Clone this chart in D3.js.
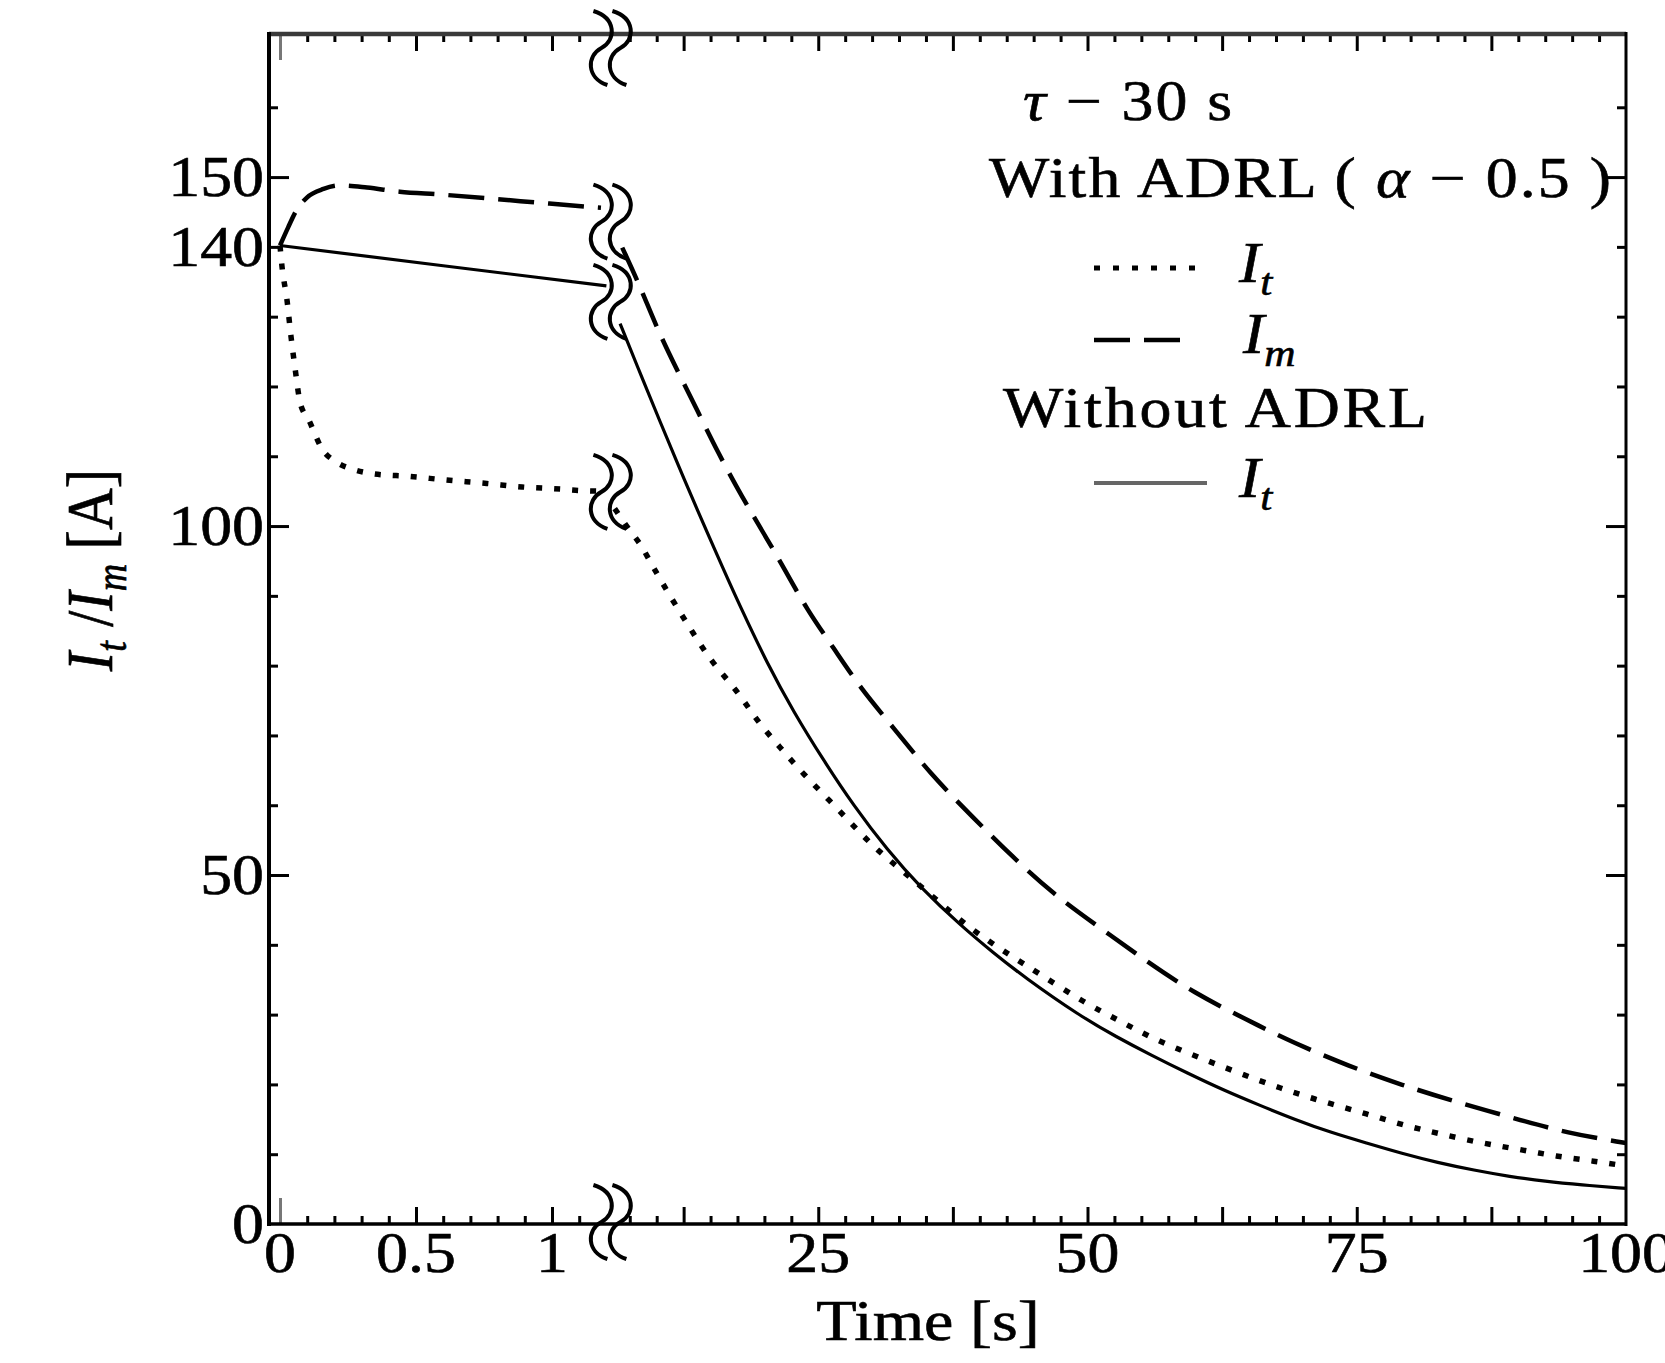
<!DOCTYPE html>
<html><head><meta charset="utf-8">
<script src="https://cdn.jsdelivr.net/npm/d3@7"></script>
<style>
body{margin:0;background:#fff;}
svg{display:block;}
text{font-family:"Liberation Serif","Times New Roman",serif;fill:#000;stroke:#000;stroke-width:0.6px;}
</style>
</head><body>
<svg id="c" width="1665" height="1363"></svg>
<script>
// ---------------- DATA ----------------
// Left (zoomed) time segment, 0 .. 1.2 s
const dotLeftT  = [0, 0.007, 0.026, 0.04, 0.055, 0.074, 0.107, 0.154, 0.21, 0.27, 0.34, 0.48, 0.61, 0.76, 0.89, 1.03, 1.10, 1.17];
const dotLeftV  = [140.2, 137.3, 132.3, 127.3, 122.7, 117.7, 115.1, 111.1, 109.1, 108.1, 107.5, 107.1, 106.6, 106.1, 105.6, 105.3, 105.1, 105.0];
const dashLeftT = [0, 0.03, 0.06, 0.10, 0.16, 0.22, 0.32, 0.44, 0.59, 0.78, 0.99, 1.18];
const dashLeftV = [140.2, 142.8, 145.2, 147.1, 148.3, 148.8, 148.5, 147.9, 147.5, 146.9, 146.2, 145.6];
const solLeftT  = [0, 0.6, 1.2];
const solLeftV  = [140.2, 137.3, 134.4];

// Right (long) time segment, after the axis break, up to 100 s
const dotRightT  = [6.1, 7.5, 8.5, 9.7, 11.5, 13.4, 15.2, 17.5, 19.3, 21.5, 23.6, 26.1, 28.3, 30.5, 33.3, 36.3, 39.4, 42.6, 45.6, 49.7, 53.0, 55.9, 59.3, 62.6, 66.0, 69.2, 72.6, 75.9, 79.2, 82.5, 86.5, 90.1, 93.5, 97.1, 100];
const dotRightV  = [102.5, 99.3, 97.5, 94.0, 89.3, 84.6, 80.3, 76.4, 72.1, 68.2, 64.5, 60.6, 57.0, 53.5, 50.0, 46.0, 42.0, 38.7, 35.8, 31.7, 29.1, 26.7, 24.5, 22.5, 20.5, 18.8, 17.2, 15.8, 14.2, 13.0, 11.6, 10.7, 9.7, 9.0, 8.3];
const dashRightT = [6.8, 8.5, 10.0, 11.9, 13.8, 15.6, 17.9, 20.5, 21.8, 24.0, 26.4, 28.9, 32.0, 35.4, 39.4, 43.1, 46.8, 51.2, 55.7, 59.9, 64.6, 69.2, 74.3, 79.2, 84.2, 89.5, 94.6, 100];
const dashRightV = [139.9, 134.2, 128.4, 122.3, 116.5, 110.8, 104.2, 97.5, 94.0, 87.9, 82.6, 76.8, 71.1, 64.5, 58.2, 52.5, 47.3, 42.4, 37.4, 33.1, 29.4, 25.9, 22.6, 19.9, 17.5, 15.2, 13.0, 11.6];
const solRightT  = [6.6, 8.7, 10.3, 11.9, 13.3, 15.0, 16.0, 17.8, 20.3, 22.7, 25.5, 28.3, 31.4, 34.5, 38.2, 41.3, 44.1, 49.3, 52.7, 55.9, 59.3, 62.6, 66.0, 69.2, 72.6, 75.9, 79.2, 82.5, 85.9, 89.2, 92.5, 95.8, 100];
const solRightV  = [129.0, 121.0, 115.0, 109.1, 104.0, 98.0, 94.5, 88.3, 80.2, 73.4, 66.4, 59.9, 53.6, 48.2, 42.8, 38.8, 35.4, 29.8, 26.8, 24.2, 21.6, 19.2, 17.0, 15.0, 13.1, 11.6, 10.1, 8.8, 7.7, 6.8, 6.1, 5.6, 5.1];

// Axis ticks / labels
const xLeftTicks     = [0, 0.5, 1];
const xLeftLabels    = ["0", "0.5", "1"];
const xRightTicks    = [25, 50, 75, 100];
const xRightLabels   = ["25", "50", "75", "100"];
const yTickValues    = [0, 50, 100, 140, 150];
const yTickLabels    = ["0", "50", "100", "140", "150"];
const breakAt        = 1.2;   // end of left segment (s)
const yMax           = 170.5;

// ---------------- LAYOUT ----------------
const L = 269, R = 1626, T = 34, B = 1224;
const SX = 1.14, FS = 56;
const svg = d3.select("#c");

const y  = d3.scaleLinear().domain([0, yMax]).range([B, T]);
const xL = d3.scaleLinear().domain([0, 1]).range([280, 552]);
const xR = d3.scaleLinear().domain([0, 100]).range([549, R]);

// ---------------- TICKS ----------------
function ticks(axisFn, scale, values, size, transform, color) {
  const ax = axisFn(scale).tickValues(values).tickSize(size).tickFormat("");
  const g = svg.append("g").attr("transform", transform).call(ax);
  g.select(".domain").remove();
  g.selectAll("line").attr("stroke", color || "#000").attr("stroke-width", 3);
  return g;
}
const leftMinor  = d3.range(1, 12).map(i => i / 10).filter(v => Math.abs(v * 2 - Math.round(v * 2)) > 1e-6);
const leftMajor  = [0.5, 1];
const rightAll   = d3.range(3, 40).map(i => i * 2.5);
const rightMinor = rightAll.filter(v => Math.abs(v / 12.5 - Math.round(v / 12.5)) > 1e-6);
const rightMajor = rightAll.filter(v => Math.abs(v / 12.5 - Math.round(v / 12.5)) < 1e-6);
const yMinor = d3.range(1, 17).map(i => i * 10).filter(v => v % 50 !== 0);
const yMajor = [50, 100, 150];

// bottom
ticks(d3.axisBottom, xL, leftMinor, -8, `translate(0,${B})`);
ticks(d3.axisBottom, xL, leftMajor, -17, `translate(0,${B})`);
ticks(d3.axisBottom, xL, [0], -26, `translate(0,${B})`, "#777");
ticks(d3.axisBottom, xR, rightMinor, -8, `translate(0,${B})`);
ticks(d3.axisBottom, xR, rightMajor, -17, `translate(0,${B})`);
// top
ticks(d3.axisTop, xL, leftMinor, -8, `translate(0,${T})`);
ticks(d3.axisTop, xL, leftMajor, -17, `translate(0,${T})`);
ticks(d3.axisTop, xL, [0], -26, `translate(0,${T})`, "#777");
ticks(d3.axisTop, xR, rightMinor, -8, `translate(0,${T})`);
ticks(d3.axisTop, xR, rightMajor, -17, `translate(0,${T})`);
// left / right
ticks(d3.axisLeft, y, yMinor, -9, `translate(${L},0)`);
ticks(d3.axisLeft, y, yMajor, -20, `translate(${L},0)`);
ticks(d3.axisRight, y, yMinor, -9, `translate(${R},0)`);
ticks(d3.axisRight, y, yMajor, -20, `translate(${R},0)`);

// frame
svg.append("line").attr("x1", L).attr("x2", R).attr("y1", T).attr("y2", T).attr("stroke", "#3a3a3a").attr("stroke-width", 4.5);
svg.append("line").attr("x1", L).attr("x2", R).attr("y1", B).attr("y2", B).attr("stroke", "#000").attr("stroke-width", 3.5);
svg.append("line").attr("x1", L).attr("x2", L).attr("y1", T - 2).attr("y2", B + 2).attr("stroke", "#000").attr("stroke-width", 4);
svg.append("line").attr("x1", R).attr("x2", R).attr("y1", T - 2).attr("y2", B + 2).attr("stroke", "#000").attr("stroke-width", 3);

// ---------------- TEXT HELPERS ----------------
function rich(x, yy, anchor, parts, opt) {
  opt = opt || {};
  const t = svg.append("text")
    .attr("transform", opt.transform || `translate(${x},${yy}) scale(${SX},1)`)
    .attr("text-anchor", anchor).attr("font-size", opt.fs || FS);
  if (opt.len) t.attr("textLength", opt.len).attr("lengthAdjust", "spacing");
  parts.forEach(p => {
    const s = t.append("tspan").text(p.t);
    if (p.i) s.attr("font-style", "italic");
    if (p.fs) s.attr("font-size", p.fs);
    if (p.dy) s.attr("dy", p.dy);
  });
  return t;
}

// tick labels
xLeftTicks.forEach((v, i) => rich(xL(v), 1272, "middle", [{t: xLeftLabels[i]}]));
xRightTicks.forEach((v, i) => rich(xR(v), 1272, "middle", [{t: xRightLabels[i]}]));
yTickValues.forEach((v, i) => rich(264, y(v) + 19, "end", [{t: yTickLabels[i]}]));

// axis titles
rich(928, 1340, "middle", [{t: "Time [s]"}], {fs: 58});
rich(0, 0, "middle", [
  {t: "I", i: true}, {t: "t", i: true, fs: 38, dy: 12}, {t: " /", dy: -12},
  {t: "I", i: true}, {t: "m", i: true, fs: 38, dy: 12}, {t: " [A]", dy: -12}
], {fs: 58, transform: `translate(112,570) rotate(-90) scale(1,${SX})`});

// ---------------- CURVES ----------------
const lineL = d3.line().x(d => xL(d[0])).y(d => y(d[1])).curve(d3.curveMonotoneX);
const lineR = d3.line().x(d => xR(d[0])).y(d => y(d[1])).curve(d3.curveBasis);
const zip = (a, b) => a.map((v, i) => [v, b[i]]);

const styles = {
  dot:  {w: 5.5, dash: "6,12"},
  dash: {w: 4.5, dash: "36,14"},
  sol:  {w: 3.2, dash: null}
};
function draw(path, st) {
  const p = svg.append("path").attr("d", path).attr("fill", "none").attr("stroke", "#000")
    .attr("stroke-width", st.w).attr("stroke-linecap", "butt");
  if (st.dash) p.attr("stroke-dasharray", st.dash);
}
draw(lineL(zip(solLeftT, solLeftV)), styles.sol);
draw(lineL(zip(dashLeftT, dashLeftV)), styles.dash);
draw(lineL(zip(dotLeftT, dotLeftV)), styles.dot);
draw(lineR(zip(solRightT, solRightV)), styles.sol);
draw(lineR(zip(dashRightT, dashRightV)), styles.dash);
draw(lineR(zip(dotRightT, dotRightV)), styles.dot);

// ---------------- BREAK MARKS ----------------
function squig(cx, cy) {
  return `M${cx - 8},${cy - 37} C${cx + 15},${cy - 30} ${cx + 15},${cy - 8} ${cx},${cy} S${cx - 15},${cy + 30} ${cx + 6},${cy + 37}`;
}
const bx1 = xL(breakAt) - 5, bx2 = xL(breakAt) + 14;
function breakPair(cy) {
  [bx1, bx2].forEach(cx => svg.append("path").attr("d", squig(cx, cy))
    .attr("fill", "none").attr("stroke", "#000").attr("stroke-width", 4));
}
breakPair(y(yMax) + 14);
breakPair(y(0) - 2);
breakPair((y(dashLeftV[dashLeftV.length - 1]) + y(dashRightV[0])) / 2 - 6);
breakPair((y(solLeftV[solLeftV.length - 1]) + y(solRightV[0])) / 2 - 3);
breakPair((y(dotLeftV[dotLeftV.length - 1]) + y(dotRightV[0])) / 2 - 8);

// ---------------- LEGEND ----------------
rich(1023, 120, "start", [{t: "τ", i: true}, {t: " − 30 s"}], {len: 209 / SX});
rich(989, 197, "start", [{t: "With ADRL ( "}, {t: "α", i: true}, {t: " − 0.5 )"}], {len: 622 / SX});
rich(1003, 427, "start", [{t: "Without ADRL"}], {len: 424 / SX});

function sample(x1, x2, yy, st, color) {
  const p = svg.append("line").attr("x1", x1).attr("x2", x2).attr("y1", yy).attr("y2", yy)
    .attr("stroke", color || "#000").attr("stroke-width", st.w);
  if (st.dash) p.attr("stroke-dasharray", st.dash);
}
sample(1094, 1200, 268, {w: 5, dash: "6,13"});
sample(1094, 1194, 340, styles.dash);
sample(1094, 1207, 483, {w: 4, dash: null}, "#666");
rich(1239, 282, "start", [{t: "I", i: true}, {t: "t", i: true, fs: 38, dy: 13}]);
rich(1243, 353, "start", [{t: "I", i: true}, {t: "m", i: true, fs: 38, dy: 13}]);
rich(1239, 497, "start", [{t: "I", i: true}, {t: "t", i: true, fs: 38, dy: 13}]);
</script>
</body></html>
